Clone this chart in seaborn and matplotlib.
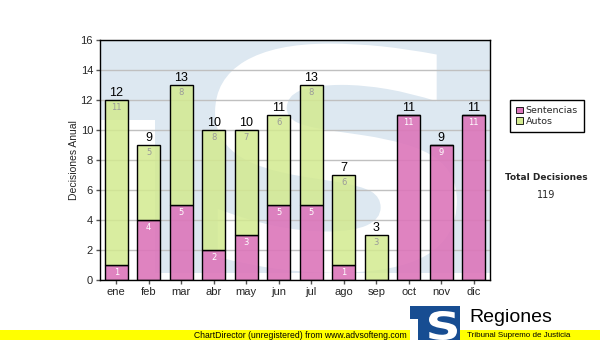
import numpy as np
import pandas as pd
import matplotlib
matplotlib.use("Agg")
import matplotlib.pyplot as plt
import seaborn as sns
from matplotlib.patches import Rectangle, PathPatch, Patch
from matplotlib.textpath import TextPath
from matplotlib.font_manager import FontProperties
from matplotlib.transforms import Affine2D

# Monthly decisions
meses = ["ene", "feb", "mar", "abr", "may", "jun", "jul", "ago", "sep", "oct", "nov", "dic"]
sentencias = [1, 4, 5, 2, 3, 5, 5, 1, 0, 11, 9, 11]
autos = [11, 5, 8, 8, 7, 6, 8, 6, 3, 0, 0, 0]
series_labels = ["Sentencias", "Autos"]
y_ticks = [0, 2, 4, 6, 8, 10, 12, 14, 16]

totales = [s + a for s, a in zip(sentencias, autos)]
total_decisiones = sum(totales)

PINK = "#dc76ba"
GREEN = "#d3ea90"
WM_BLUE = "#dde8f1"
LOGO_BLUE = "#174d92"

sns.set_style("white")
plt.rcParams["font.family"] = ["Liberation Sans", "DejaVu Sans"]

W, H = 600, 340
fig = plt.figure(figsize=(W / 100, H / 100), dpi=100)


def fx(x):
    return x / W


def fy(y):
    return 1 - y / H


ax = fig.add_axes([fx(100), fy(280), 390 / W, 240 / H])
ax.set_facecolor("white")

# Watermark logo behind the plot area
ax.add_patch(Rectangle((0, 0.03), 1, 0.97, transform=ax.transAxes,
                       facecolor=WM_BLUE, edgecolor="none", zorder=0))
ax.add_patch(Rectangle((0, 0), 0.14, 0.667, transform=ax.transAxes,
                       facecolor="white", edgecolor="none", zorder=0.1))


def glyph_patch(char, x0, y0, x1, y1, transform, color, zorder, weight="bold"):
    tp = TextPath((0, 0), char, size=1,
                  prop=FontProperties(family="DejaVu Sans", weight=weight))
    ext = tp.get_extents()
    tr = (Affine2D().translate(-ext.x0, -ext.y0)
          .scale((x1 - x0) / ext.width, (y1 - y0) / ext.height)
          .translate(x0, y0))
    return PathPatch(tr.transform_path(tp), facecolor=color, edgecolor="none",
                     transform=transform, zorder=zorder)


ax.add_patch(glyph_patch("S", 0.295, 0.03, 0.915, 0.985, ax.transAxes, "white", 0.2))

ax.yaxis.grid(True, color="#c0c0c0", linewidth=1)
ax.set_axisbelow(True)

df = pd.DataFrame({"mes": meses, "Sentencias": sentencias, "Autos": autos})

pink_rgba = matplotlib.colors.to_rgba(PINK, 0.9)
green_rgba = matplotlib.colors.to_rgba(GREEN, 0.85)

sns.barplot(data=df, x="mes", y="Sentencias", order=meses, color=PINK,
            facecolor=pink_rgba, edgecolor="black", linewidth=1, width=0.71,
            saturation=1, errorbar=None, ax=ax, zorder=3)
sns.barplot(data=df, x="mes", y="Autos", order=meses, color=GREEN,
            facecolor=green_rgba, edgecolor="black", linewidth=1, width=0.71,
            saturation=1, errorbar=None, bottom=sentencias, ax=ax, zorder=3)

# Segment and total labels
for i, (s, a, t) in enumerate(zip(sentencias, autos, totales)):
    if s > 0:
        ax.annotate(str(s), (i, s), xytext=(0, -5.5), textcoords="offset points",
                    ha="center", va="center", fontsize=6, color="white",
                    family="DejaVu Sans", zorder=5)
    if a > 0:
        ax.annotate(str(a), (i, t), xytext=(0, -5.5), textcoords="offset points",
                    ha="center", va="center", fontsize=6, color="#9a9a9a",
                    family="DejaVu Sans", zorder=5)
    ax.annotate(str(t), (i, t), xytext=(0, 0.8), textcoords="offset points",
                ha="center", va="bottom", fontsize=9, color="black", zorder=5)

ax.set_xlim(-0.5, len(meses) - 0.5)
ax.set_ylim(0, 16)
ax.set_yticks(y_ticks)
ax.set_yticklabels([str(v) for v in y_ticks])
ax.set_xlabel("")
ax.set_ylabel("Decisiones Anual", fontsize=7.5, labelpad=1)
ax.tick_params(axis="both", which="both", direction="out", length=3, width=1,
               color="#555555", labelsize=8, pad=2, bottom=True, left=True)
for sp in ax.spines.values():
    sp.set_color("black")
    sp.set_linewidth(1)
    sp.set_zorder(6)

# Legend
handles = [Patch(facecolor=PINK, edgecolor="black", linewidth=0.6),
           Patch(facecolor=GREEN, edgecolor="black", linewidth=0.6)]
leg = fig.legend(handles, series_labels, loc="upper left",
                 bbox_to_anchor=(fx(510), fy(100)),
                 prop={"family": "DejaVu Sans", "size": 6.8},
                 handlelength=0.7, handleheight=0.7, handletextpad=0.3,
                 labelspacing=0.15, borderpad=0.65, frameon=True, fancybox=False,
                 framealpha=1, borderaxespad=0)
leg.get_frame().set_edgecolor("black")
leg.get_frame().set_linewidth(1)

fig.text(fx(546), fy(177), "Total Decisiones", ha="center", va="center",
         fontsize=6.5, fontweight="bold", family="DejaVu Sans")
fig.text(fx(546), fy(195), str(total_decisiones), ha="center", va="center",
         fontsize=7, family="DejaVu Sans")

# Footer band
fig.patches.append(Rectangle((0, 0), 1, 10 / H, transform=fig.transFigure,
                             facecolor="#ffff00", edgecolor="none", zorder=1))
fig.text(fx(300), fy(335), "ChartDirector (unregistered) from www.advsofteng.com",
         ha="center", va="center", fontsize=6.2, color="black", zorder=3)

# Corner logo
fig.patches.append(Rectangle((fx(410), fy(340)), 50 / W, 34 / H,
                             transform=fig.transFigure, facecolor=LOGO_BLUE,
                             edgecolor="none", zorder=2))
fig.patches.append(Rectangle((fx(410), fy(340)), 8 / W, 21 / H,
                             transform=fig.transFigure, facecolor="white",
                             edgecolor="none", zorder=2.1))
fig.patches.append(glyph_patch("S", fx(429), fy(340), fx(457), fy(311),
                               fig.transFigure, "white", 2.2))
fig.text(fx(469), fy(322), "Regiones", ha="left", va="baseline",
         fontsize=14, color="black", zorder=3)
fig.text(fx(467), fy(332), "Tribunal Supremo de Justicia", ha="left", va="top",
         fontsize=5.8, color="black", zorder=3)

fig.savefig("out.png", dpi=100)
